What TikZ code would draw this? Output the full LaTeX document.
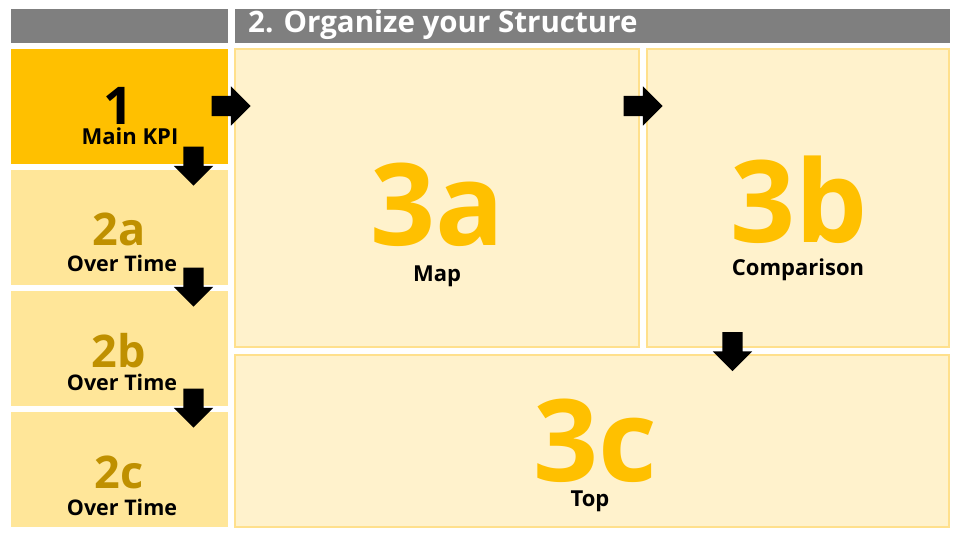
\documentclass[tikz,border=0pt]{standalone}
\usepackage{fontspec}
\setmainfont{Open Sans}
\usetikzlibrary{shapes.arrows,positioning}
\definecolor{kpigold}{HTML}{FFC000}
\definecolor{timefill}{HTML}{FFE699}
\definecolor{timetext}{HTML}{BF9000}
\definecolor{mainfill}{HTML}{FFF2CC}
\definecolor{mainline}{HTML}{FFE08C}
\definecolor{headgray}{HTML}{7F7F7F}
\tikzset{
    tile/.style={rectangle, inner sep=0pt, outer sep=0pt, anchor=north west},
    maintile/.style={tile, fill=mainfill, draw=mainline, line width=1.5pt},
    timetile/.style={tile, fill=timefill, minimum width=217pt, minimum height=115pt},
    blockarrow/.style={single arrow, fill=black, inner xsep=0pt, inner ysep=10pt, outer sep=0pt,
        minimum width=39pt, minimum height=39pt,
        single arrow head extend=9.5pt, single arrow head indent=0pt},
    label/.style={inner sep=0pt, anchor=base, font=\bfseries\fontsize{22}{22}\selectfont},
    bignum/.style={inner sep=0pt, anchor=base, text=kpigold, text height=0.72em, text depth=0pt,
        font=\bfseries\fontsize{114}{114}\selectfont},
    timenum/.style={inner sep=0pt, anchor=base, text=timetext, text height=0.72em, text depth=0pt,
        font=\bfseries\fontsize{45}{45}\selectfont},
    timelabel/.style={label, font=\bfseries\fontsize{21.5}{21.5}\selectfont},
}
\begin{document}
\begin{tikzpicture}[x=1pt, y=-1pt]
    \fill[white] (0,0) rectangle (960,540);
    \useasboundingbox (0,0) rectangle (960,540);

    % header bars
    \node[tile, fill=headgray, minimum width=217pt, minimum height=34pt] (headL) at (11,9) {};
    \node[tile, fill=headgray, minimum width=715pt, minimum height=34pt] (headR) at (235,9) {};
    \node[inner sep=0pt, anchor=base west, text=white, font=\bfseries\fontsize{29.5}{29.5}\selectfont]
        (title) at (248,33) {2. Organize your Structure};

    % left column
    \node[tile, fill=kpigold, minimum width=217pt, minimum height=115pt] (kpi) at (11,49) {};
    \foreach \name/\y in {timeA/170, timeB/291, timeC/412}{
        \node[timetile] (\name) at (11,\y) {};
    }

    % main panels
    \node[maintile, minimum width=404pt, minimum height=298pt] (map) at (235,49) {};
    \node[maintile, minimum width=302pt, minimum height=298pt] (comp) at (647,49) {};
    \node[maintile, minimum width=714pt, minimum height=172pt] (top) at (235,355) {};

    % texts
    \node[inner sep=0pt, anchor=base, text height=0.72em, text depth=0pt,
        font=\bfseries\fontsize{52}{52}\selectfont] (kpiNum) at (118,125) {1};
    \node[label] (kpiText) at (130,145) {Main KPI};
    \node[timenum] (timeANum) at (119,245) {2a};
    \node[timelabel] (timeAText) at (122,271) {Over Time};
    \node[timenum] (timeBNum) at (119,367) {2b};
    \node[timelabel] (timeBText) at (122,390) {Over Time};
    \node[timenum] (timeCNum) at (119,488) {2c};
    \node[timelabel] (timeCText) at (122,515) {Over Time};
    \node[bignum] (mapNum) at (437,245) {3a};
    \node[label] (mapText) at (437,281) {Map};
    \node[bignum] (compNum) at (799,242) {3b};
    \node[label] (compText) at (798,275) {Comparison};
    \node[bignum] (topNum) at (595,481) {3c};
    \node[label] (topText) at (590,506) {Top};

    % flow arrows
    \node[blockarrow] (toMap) at (226,106) {};
    \node[blockarrow] (toComp) at (638,106) {};
    \foreach \name/\y in {toTimeA/161, toTimeB/282, toTimeC/403}{
        \node[blockarrow, rotate=-90] (\name) at (193.5,\y) {};
    }
    \node[blockarrow, rotate=-90] (toTop) at (732.5,346.5) {};
\end{tikzpicture}
\end{document}
